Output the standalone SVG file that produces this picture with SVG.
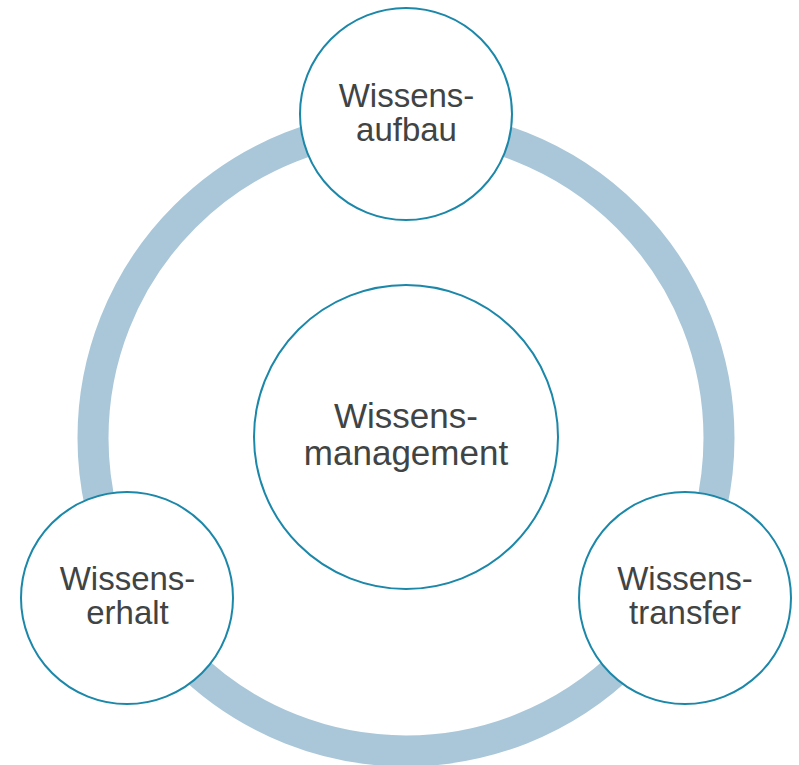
<svg xmlns="http://www.w3.org/2000/svg" width="799" height="765" viewBox="0 0 799 765">
<style>
.node{fill:#ffffff;stroke:#1b87a9;stroke-width:2}
.lbl{font-family:"Liberation Sans",Arial,sans-serif;fill:#404444;text-anchor:middle}
.s{font-size:33px}
.b{font-size:35px}
</style>
<rect width="799" height="765" fill="#ffffff"/>
<g id="connectors">
<circle cx="406" cy="438" r="313" fill="none" stroke="#a9c7d9" stroke-width="31"/>
</g>
<g id="center">
<circle class="node" cx="406" cy="437" r="152"/>
<text class="lbl b" x="406" y="428">Wissens-</text>
<text class="lbl b" x="406" y="465">management</text>
</g>
<g id="aufbau">
<circle class="node" cx="406" cy="114" r="106"/>
<text class="lbl s" x="406.5" y="107">Wissens-</text>
<text class="lbl s" x="406.5" y="141">aufbau</text>
</g>
<g id="erhalt">
<circle class="node" cx="127" cy="598" r="106"/>
<text class="lbl s" x="127.5" y="590">Wissens-</text>
<text class="lbl s" x="127.5" y="624">erhalt</text>
</g>
<g id="transfer">
<circle class="node" cx="685" cy="598" r="106"/>
<text class="lbl s" x="685" y="590">Wissens-</text>
<text class="lbl s" x="685" y="624">transfer</text>
</g>
</svg>
